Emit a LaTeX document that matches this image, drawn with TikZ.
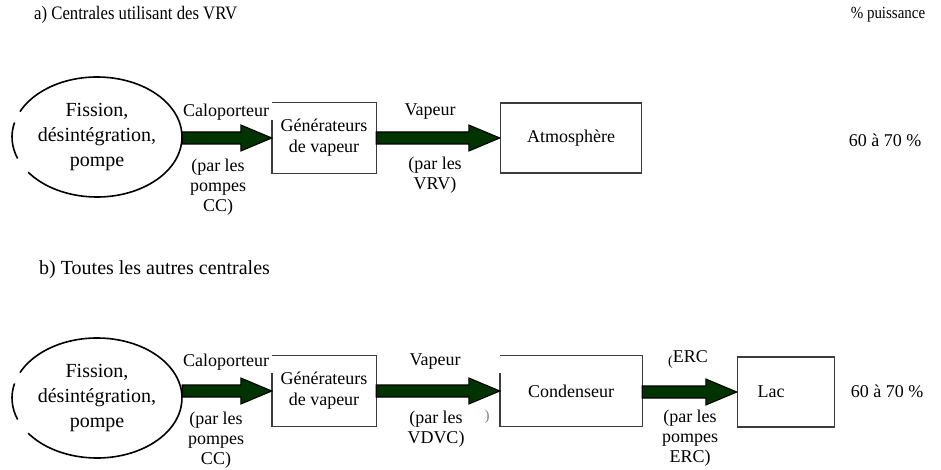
\documentclass[tikz,border=0pt]{standalone}
\usepackage{fontspec}
\setmainfont{Liberation Serif}
\newfontfamily\narrowserif[FakeStretch=0.88]{Liberation Serif}
\usetikzlibrary{calc,shapes.geometric}
\definecolor{arrgreen}{RGB}{0,51,0}
\definecolor{boxgray}{RGB}{60,60,60}
\newcommand\fatarr[2]{%
  \path[draw=black, line width=1.1pt, fill=arrgreen, line join=miter]
    let \p1=(#1), \p2=(#2) in
    (\x1,\y2+6pt) -- (\x2-31pt,\y2+6pt) -- (\x2-31pt,\y2+13pt) -- (\x2,\y2)
    -- (\x2-31pt,\y2-13pt) -- (\x2-31pt,\y2-6pt) -- (\x1,\y2-6pt) -- cycle;}
\newcommand\gapell[1]{%
  \draw[line width=1.6pt] (#1) ++(-216:85 and 60) arc[start angle=-216, end angle=-515, x radius=85, y radius=60];
  \draw[line width=1.6pt] (#1) ++(-166:85 and 60) arc[start angle=-166, end angle=-201, x radius=85, y radius=60];}
\newcommand\gapbox[1]{%
  \draw[boxline] (#1.north west) -- (#1.north east) -- (#1.south east) -- (#1.south west) -- ++(0,-54);}
\tikzset{
  txt/.style={inner sep=0pt, font=\fontsize{18}{20}\selectfont, align=center},
  elltext/.style={shape=ellipse, minimum width=170pt, minimum height=120pt, inner sep=0pt,
    font=\fontsize{20}{25}\selectfont, align=center},
  boxline/.style={draw=boxgray, line width=1.4pt},
  boxst/.style={boxline, minimum height=70pt, inner sep=0pt,
    font=\fontsize{18}{21}\selectfont, align=center},
  boxnl/.style={boxst, draw=none},
  ttl/.style={inner sep=0pt, anchor=west, font=\fontsize{19}{20}\selectfont},
}
\begin{document}
\begin{tikzpicture}[x=1pt,y=-1pt]
\useasboundingbox (0,0) rectangle (941,470);
% titles
\node[ttl] (ta) at (34,15) {\narrowserif a) Centrales utilisant des VRV};
\node[txt, font=\fontsize{17}{20}\selectfont] (pct) at (888,15) {\narrowserif\% puissance};
% ---------- row a ----------
\node[elltext] (e1) at (97,137) {Fission,\\désintégration,\\pompe};
\gapell{e1.center}
\node[boxnl, minimum width=103pt] (g1) at (324,138) {Générateurs\\de vapeur};
\gapbox{g1}
\node[boxst, minimum width=141pt] (atm) at (571,138) {Atmosphère};
\fatarr{e1.east}{g1.west}
\fatarr{g1.east}{atm.west}
\node[txt] (cal1) at (226,112) {Caloporteur};
\node[txt] (pp1) at (218,187) {(par les\\pompes\\CC)};
\node[txt] (vap1) at (430,112) {Vapeur};
\node[txt] (pv1) at (435,175) {(par les\\VRV)};
\node[txt] (pc1) at (885,140) {60 à 70 \%};
% ---------- row b ----------
\node[ttl, font=\fontsize{20}{20}\selectfont] (tb) at (39,270) {b) Toutes les autres centrales};
\node[elltext] (e2) at (97,398) {Fission,\\désintégration,\\pompe};
\gapell{e2.center}
\node[boxnl, minimum width=103pt] (g2) at (324,391) {Générateurs\\de vapeur};
\gapbox{g2}
\node[boxnl, minimum width=141pt] (cond) at (571,391) {Condenseur};
\gapbox{cond}
\node[boxst, minimum width=97pt] (lac) at (786,392) {Lac\hspace*{30pt}};
\fatarr{e2.east}{g2.west}
\fatarr{g2.east}{cond.west}
\fatarr{cond.east}{lac.west}
\node[txt] (cal2) at (226,362) {Caloporteur};
\node[txt] (pp2) at (216,440) {(par les\\pompes\\CC)};
\node[txt] (vap2) at (435,362) {Vapeur};
\node[txt] (pv2) at (436,429) {(par les\\VDVC)};
\node[txt, text=gray, font=\fontsize{15}{15}\selectfont] (stray) at (487,417) {)};
\node[txt] (erc) at (688,360) {{\fontsize{14}{14}\selectfont\raisebox{-3pt}{(}}ERC};
\node[txt] (pe2) at (690,438) {(par les\\pompes\\ERC)};
\node[txt] (pc2) at (887,391) {60 à 70 \%};
\end{tikzpicture}
\end{document}
